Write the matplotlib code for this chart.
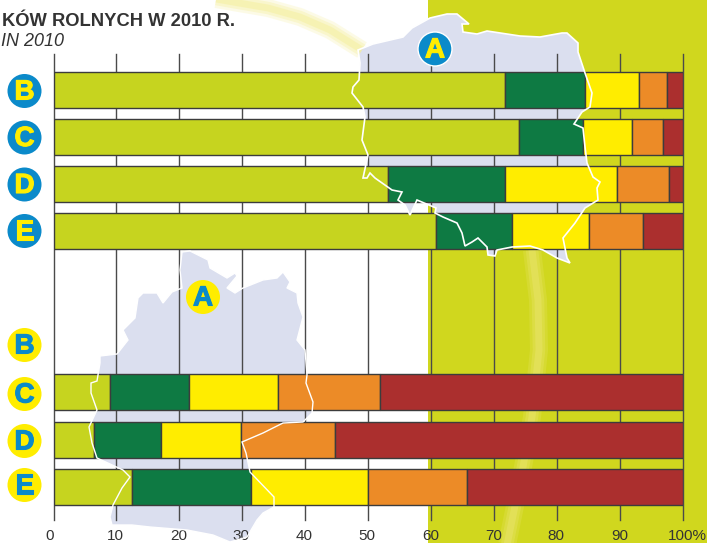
import numpy as np
import matplotlib
matplotlib.use('Agg')
import matplotlib.pyplot as plt
import matplotlib.patheffects as pe
from matplotlib.patches import Polygon, Circle, Rectangle
from matplotlib.transforms import ScaledTranslation

plt.rcParams['font.family'] = ['Liberation Sans', 'DejaVu Sans']

W, H = 707, 543

# Bar data: share of each segment (%), rows from top to bottom
top_labels = ['B', 'C', 'D', 'E']
top_seg1 = [71.7, 73.9, 53.1, 60.8]
top_seg2 = [12.7, 10.1, 18.6, 12.0]
top_seg3 = [8.5, 7.9, 17.8, 12.2]
top_seg4 = [4.5, 4.9, 8.3, 8.6]
top_seg5 = [2.6, 3.2, 2.2, 6.4]

bottom_labels = ['B', 'C', 'D', 'E']
bottom_seg1 = [0, 8.9, 6.4, 12.5]
bottom_seg2 = [0, 12.6, 10.7, 18.8]
bottom_seg3 = [0, 14.2, 12.7, 18.7]
bottom_seg4 = [0, 16.1, 14.9, 15.7]
bottom_seg5 = [0, 48.2, 55.3, 34.3]

xticks = [0, 10, 20, 30, 40, 50, 60, 70, 80, 90, 100]
xticklabels = ['0', '10', '20', '30', '40', '50', '60', '70', '80', '90', '100%']

colors = ['#c6d41f', '#0e7a43', '#ffed00', '#ec8b27', '#ab2f2e']
edge = '#3c3c3c'
blue = '#0b8aca'
yellow = '#ffed00'
lavender = '#dbdfef'

# Decorative outlines in picture pixels
map_top = [(358, 50), (373, 44), (403, 37), (412, 28), (430, 18), (447, 14), (457, 14), (463, 19),
           (469, 24), (462, 24), (463, 32), (477, 34), (487, 31), (520, 36), (540, 37), (562, 33),
           (567, 33), (578, 43), (578, 52), (585, 73), (592, 93), (590, 107), (582, 112), (574, 124),
           (583, 128), (585, 147), (587, 163), (593, 177), (600, 182), (597, 188), (598, 200),
           (585, 208), (575, 223), (563, 238), (567, 258), (570, 263), (557, 258), (543, 250),
           (530, 246), (512, 247), (497, 250), (495, 256), (488, 255), (487, 247), (478, 238),
           (472, 242), (465, 246), (462, 233), (457, 223), (443, 217), (435, 213), (436, 208),
           (417, 200), (410, 215), (405, 205), (398, 200), (402, 192), (392, 190), (375, 178),
           (370, 173), (367, 178), (363, 178), (368, 155), (362, 140), (365, 117), (363, 107),
           (352, 93), (353, 87), (359, 80), (360, 63)]
map_bottom = [(182, 252), (190, 251), (208, 260), (210, 268), (227, 278), (235, 273), (237, 276),
              (227, 288), (235, 293), (243, 288), (263, 280), (277, 278), (283, 272), (290, 282),
              (287, 288), (297, 293), (298, 303), (303, 317), (297, 340), (305, 350), (307, 375),
              (306, 383), (313, 402), (312, 413), (303, 422), (283, 423), (263, 433), (242, 442),
              (246, 453), (250, 472), (274, 497), (274, 507), (263, 513), (257, 520), (247, 537),
              (230, 542), (213, 535), (187, 530), (150, 527), (132, 525), (112, 525), (110, 517),
              (113, 505), (122, 488), (130, 477), (123, 470), (97, 458), (92, 443), (89, 427),
              (97, 410), (91, 393), (91, 383), (97, 381), (100, 363), (100, 356), (117, 354),
              (128, 340), (123, 330), (135, 318), (138, 298), (143, 293), (157, 293), (163, 303),
              (172, 292), (182, 288), (180, 270)]
swoosh_top = [(205, -3), (233, 2), (268, 8), (300, 17), (330, 30), (362, 50)]
swoosh_right = [(532, 250), (538, 300), (539, 350), (532, 417), (523, 467), (507, 545)]

fig = plt.figure(figsize=(W / 100, H / 100), dpi=100, facecolor='white')

# Background layer in pixel coordinates
bg = fig.add_axes([0, 0, 1, 1], zorder=0)
bg.set_xlim(0, W)
bg.set_ylim(H, 0)
bg.axis('off')
bg.add_patch(Rectangle((428, 0), W - 428, H, color='#d0d71e', lw=0))
for lw, a in [(13, 0.25), (9, 0.35), (5, 0.5)]:
    bg.plot(*zip(*swoosh_top), color='#f5ef9c', lw=lw, alpha=a, solid_capstyle='butt')
    bg.plot(*zip(*swoosh_right), color='#e9e46a', lw=lw, alpha=a, solid_capstyle='butt')
bg.add_patch(Polygon(map_top, closed=True, facecolor=lavender, edgecolor='none'))
bg.add_patch(Polygon(map_bottom, closed=True, facecolor=lavender, edgecolor='none'))

# Chart layer
ax = fig.add_axes([53.5 / W, 1 - 520 / H, (683.3 - 53.5) / W, (520 - 54) / H], zorder=1)
ax.patch.set_alpha(0)
ax.set_xlim(0, 100)
ax.set_ylim(520, 54)
for s in ax.spines.values():
    s.set_visible(False)

top_y = [90, 137, 184, 231]
bottom_y = [345, 392, 439.5, 486.5]
bar_h = 36


def stacked(ypos, segs):
    left = np.zeros(len(ypos))
    for seg, c in zip(segs, colors):
        seg = np.array(seg, dtype=float)
        show = seg > 0
        ax.barh(np.array(ypos)[show], seg[show], left=left[show], height=bar_h, color=c,
                edgecolor=edge, linewidth=1, zorder=3)
        left += seg


stacked(top_y, [top_seg1, top_seg2, top_seg3, top_seg4, top_seg5])
stacked(bottom_y, [bottom_seg1, bottom_seg2, bottom_seg3, bottom_seg4, bottom_seg5])

ax.set_xticks(xticks)
ax.set_xticklabels(xticklabels, fontsize=11, color='#333333')
ax.set_yticks([])
ax.tick_params(axis='x', length=0, pad=6.5)
ax.grid(axis='x', color='#4a4a4a', lw=1, zorder=1)
ax.set_axisbelow(True)
for line in ax.xaxis.get_gridlines():
    line.set_clip_on(False)

# Tick labels sit a little off their ticks in the original
shifts = [-3.5, -1, -1, -1, -1, -1.5, -1, -1, -1, -1, 4]
for lab, dx in zip(ax.get_xticklabels(), shifts):
    lab.set_transform(lab.get_transform() + ScaledTranslation(dx / 100, 0, fig.dpi_scale_trans))

# Overlay layer: white outlines, badges, titles
fg = fig.add_axes([0, 0, 1, 1], zorder=2)
fg.set_xlim(0, W)
fg.set_ylim(H, 0)
fg.axis('off')
fg.add_patch(Polygon(map_top, closed=True, fill=False, edgecolor='white', lw=1.2))
fg.add_patch(Polygon(map_bottom, closed=True, fill=False, edgecolor='white', lw=1.0))


def badge(x, y, letter, face, text_color, ring=None):
    fg.add_patch(Circle((x, y), 17, facecolor=face, edgecolor=ring or 'none', lw=1))
    t = fg.text(x, y + 1.5, letter, color=text_color, fontsize=20, fontweight='bold',
                ha='center', va='center')
    t.set_path_effects([pe.withStroke(linewidth=0.8, foreground=text_color)])


badge(435, 49, 'A', blue, yellow, ring='white')
badge(203, 297, 'A', yellow, blue)
for lab, y in zip(top_labels, [91, 137.5, 184.5, 231]):
    badge(24.5, y, lab, blue, yellow)
for lab, y in zip(bottom_labels, [345, 394, 441, 485]):
    badge(24.5, y, lab, yellow, blue)

fg.text(2, 21.5, 'KÓW ROLNYCH W 2010 R.', fontsize=13.2, fontweight='bold', color='#333333',
        ha='left', va='center')
fg.text(1, 42, 'IN 2010', fontsize=13, style='italic', color='#333333', ha='left', va='center')

fig.savefig('out.png', dpi=100)
